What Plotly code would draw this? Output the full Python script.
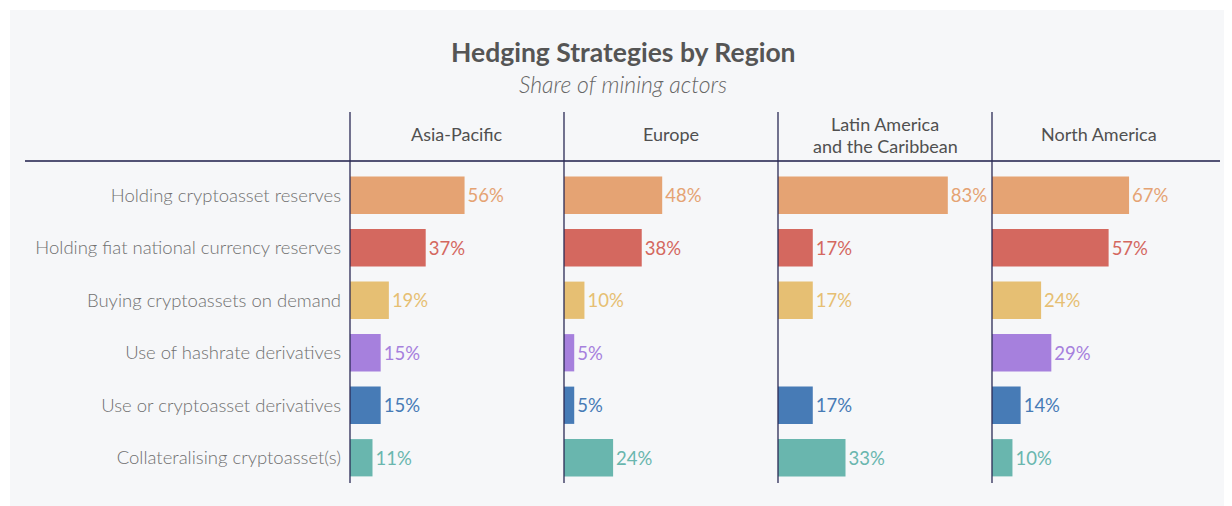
import plotly.graph_objects as go

OFF = 8  # page body margin of the html
W, H = 1232 - OFF, 506 - OFF

categories = [
    "Holding cryptoasset reserves",
    "Holding fiat national currency reserves",
    "Buying cryptoassets on demand",
    "Use of hashrate derivatives",
    "Use or cryptoasset derivatives",
    "Collateralising cryptoasset(s)",
]
regions = ["Asia-Pacific", "Europe", "Latin America<br>and the Caribbean", "North America"]
asia_pacific = [56, 37, 19, 15, 15, 11]
europe = [48, 38, 10, 5, 5, 24]
latin_america = [83, 17, 17, None, 17, 33]
north_america = [67, 57, 24, 29, 14, 10]
series = [asia_pacific, europe, latin_america, north_america]
colors = ["#E5A373", "#D4685F", "#E6BF73", "#A680DD", "#477BB6", "#69B6AE"]

FONT = "Lato"
panel_x = [350, 564, 778, 992]
panel_w = 214
plot_top, plot_bot = 169, 484


def px_x(x):
    return (x - OFF) / W


def px_y(y):
    return 1 - (y - OFF) / H


fig = go.Figure()
for i, vals in enumerate(series):
    xa = "x" if i == 0 else f"x{i+1}"
    ya = "y" if i == 0 else f"y{i+1}"
    texts = [f"{v}%" if v is not None else "" for v in vals]
    fig.add_trace(go.Bar(
        x=vals, y=categories, orientation="h",
        marker=dict(color=colors, line=dict(width=0)),
        text=texts, textposition="outside",
        textfont=dict(family=FONT, size=18.5, color=colors),
        cliponaxis=False, width=0.71,
        xaxis=xa, yaxis=ya, hoverinfo="skip", showlegend=False,
    ))

layout = dict(
    width=W, height=H,
    margin=dict(l=0, r=0, t=0, b=0),
    paper_bgcolor="white", plot_bgcolor="rgba(0,0,0,0)",
    font=dict(family=FONT, color="#555555"),
)
for i in range(4):
    k = "" if i == 0 else str(i + 1)
    x0 = panel_x[i]
    layout[f"xaxis{k}"] = dict(
        domain=[px_x(x0), px_x(x0 + panel_w)], range=[0, 104.6],
        visible=False, fixedrange=True, anchor=f"y{k}",
    )
    layout[f"yaxis{k}"] = dict(
        domain=[px_y(plot_bot), px_y(plot_top)],
        autorange="reversed", anchor=f"x{k}",
        showgrid=False, zeroline=False, showline=False,
        showticklabels=(i == 0), ticks="",
        ticklabelstandoff=8,
        tickfont=dict(family=FONT, size=18.5, color="#707070", weight=300),
        categoryorder="array", categoryarray=categories,
    )
fig.update_layout(**layout)

shapes = [
    dict(type="rect", xref="paper", yref="paper", x0=px_x(10), x1=px_x(1232), y0=px_y(506), y1=px_y(10),
         fillcolor="#F6F7F9", line=dict(width=0), layer="below"),
    dict(type="line", xref="paper", yref="paper", x0=px_x(25), x1=px_x(1220), y0=px_y(161), y1=px_y(161),
         line=dict(color="#1c1c48", width=1.3)),
]
for x0 in panel_x:
    shapes.append(dict(type="line", xref="paper", yref="paper", x0=px_x(x0), x1=px_x(x0),
                       y0=px_y(483), y1=px_y(112), line=dict(color="#2a2a55", width=1.3), layer="above"))
fig.update_layout(shapes=shapes)

annotations = [
    dict(text="<b>Hedging Strategies by Region</b>", x=px_x(623), y=px_y(52), xref="paper", yref="paper",
         showarrow=False, xanchor="center", yanchor="middle",
         font=dict(family=FONT, size=26.5, color="#555555")),
    dict(text="<i>Share of mining actors</i>", x=px_x(623), y=px_y(84), xref="paper", yref="paper",
         showarrow=False, xanchor="center", yanchor="middle",
         font=dict(family=FONT, size=23, color="#666666", weight=300)),
]
for i, name in enumerate(regions):
    lines = name.split("<br>")
    if len(lines) == 1:
        ys = [134]
    else:
        ys = [124, 146]
    for line, yy in zip(lines, ys):
        annotations.append(dict(
            text=line, x=px_x(panel_x[i] + panel_w / 2), y=px_y(yy), xref="paper", yref="paper",
            showarrow=False, xanchor="center", yanchor="middle",
            font=dict(family=FONT, size=18, color="#505050"),
        ))
fig.update_layout(annotations=annotations)

fig.write_html("out.html")
